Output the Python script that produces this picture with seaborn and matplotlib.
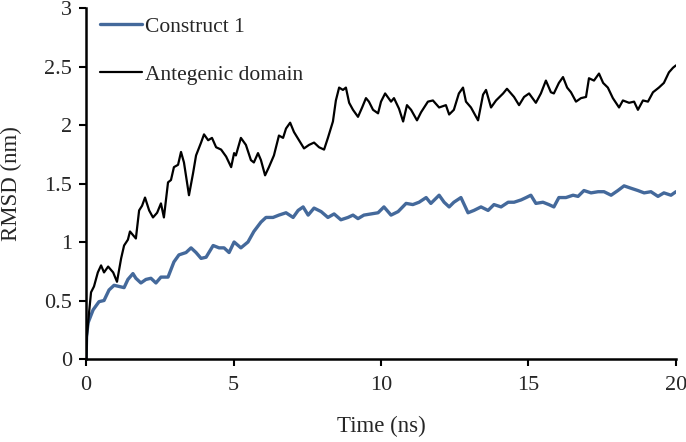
import seaborn as sns
import matplotlib.pyplot as plt
import pandas as pd

# Antegenic domain (black)
t_ant = [0, 0.03, 0.1, 0.17, 0.27, 0.4, 0.51, 0.61, 0.75, 0.92, 1.05, 1.19, 1.29, 1.42, 1.49,
         1.59, 1.69, 1.8, 1.9, 2.0, 2.14, 2.27, 2.41, 2.54, 2.64, 2.78, 2.88, 2.98, 3.12,
         3.22, 3.32, 3.49, 3.63, 3.73, 3.9, 4.0, 4.14, 4.27, 4.41, 4.58, 4.75, 4.92, 5.02,
         5.08, 5.25, 5.42, 5.59, 5.69, 5.83, 5.93, 6.07, 6.2, 6.37, 6.54, 6.68, 6.78, 6.92,
         7.05, 7.22, 7.39, 7.56, 7.73, 7.9, 8.07, 8.2, 8.37, 8.47, 8.58, 8.71, 8.81, 8.92,
         9.05, 9.22, 9.36, 9.49, 9.59, 9.73, 9.9, 10.0, 10.14, 10.34, 10.44, 10.61, 10.75,
         10.88, 11.02, 11.22, 11.36, 11.59, 11.76, 11.97, 12.2, 12.31, 12.47, 12.64, 12.78,
         12.88, 13.05, 13.29, 13.46, 13.56, 13.73, 13.9, 14.14, 14.27, 14.41, 14.51, 14.68,
         14.85, 15.02, 15.25, 15.42, 15.59, 15.76, 15.86, 16.03, 16.17, 16.31, 16.44, 16.61,
         16.78, 16.95, 17.05, 17.22, 17.39, 17.53, 17.69, 17.86, 18.07, 18.2, 18.41, 18.58,
         18.71, 18.88, 19.05, 19.22, 19.42, 19.59, 19.76, 19.9, 20.0]
rmsd_ant = [0, 0.19, 0.39, 0.57, 0.62, 0.74, 0.80, 0.74, 0.79, 0.74, 0.66, 0.86, 0.97, 1.02,
            1.09, 1.06, 1.03, 1.27, 1.31, 1.38, 1.27, 1.21, 1.25, 1.33, 1.21, 1.51, 1.53,
            1.64, 1.66, 1.77, 1.68, 1.40, 1.59, 1.74, 1.85, 1.92, 1.87, 1.89, 1.81, 1.79,
            1.73, 1.64, 1.76, 1.74, 1.89, 1.83, 1.70, 1.68, 1.76, 1.70, 1.57, 1.64, 1.74,
            1.91, 1.89, 1.97, 2.02, 1.94, 1.87, 1.80, 1.83, 1.85, 1.81, 1.79, 1.89, 2.03,
            2.21, 2.32, 2.30, 2.32, 2.19, 2.13, 2.07, 2.15, 2.23, 2.20, 2.13, 2.10, 2.20,
            2.27, 2.20, 2.23, 2.14, 2.03, 2.17, 2.13, 2.04, 2.11, 2.20, 2.21, 2.15, 2.17,
            2.09, 2.13, 2.27, 2.32, 2.20, 2.15, 2.04, 2.26, 2.30, 2.15, 2.21, 2.27, 2.31,
            2.27, 2.24, 2.17, 2.24, 2.27, 2.19, 2.27, 2.38, 2.28, 2.27, 2.36, 2.41, 2.32,
            2.28, 2.20, 2.23, 2.24, 2.40, 2.38, 2.44, 2.36, 2.32, 2.23, 2.15, 2.21, 2.19,
            2.20, 2.13, 2.21, 2.20, 2.28, 2.32, 2.36, 2.45, 2.49, 2.51]

# Construct 1 (blue)
t_con = [0, 0.02, 0.07, 0.24, 0.44, 0.61, 0.78, 0.95, 1.12, 1.29, 1.42, 1.59, 1.69, 1.86,
         2.03, 2.2, 2.37, 2.54, 2.78, 2.98, 3.15, 3.39, 3.56, 3.73, 3.9, 4.07, 4.31, 4.51,
         4.68, 4.85, 5.02, 5.25, 5.49, 5.69, 5.93, 6.1, 6.34, 6.54, 6.78, 7.02, 7.19, 7.36,
         7.53, 7.73, 7.97, 8.2, 8.41, 8.64, 8.88, 9.05, 9.22, 9.42, 9.66, 9.9, 10.1, 10.34,
         10.58, 10.85, 11.08, 11.29, 11.53, 11.69, 11.97, 12.14, 12.31, 12.47, 12.71, 12.95,
         13.15, 13.39, 13.63, 13.83, 14.07, 14.31, 14.51, 14.75, 14.92, 15.08, 15.25, 15.49,
         15.69, 15.86, 16.03, 16.27, 16.51, 16.68, 16.88, 17.12, 17.36, 17.56, 17.8, 18.03,
         18.24, 18.47, 18.71, 18.92, 19.15, 19.39, 19.59, 19.83, 20.0]
rmsd_con = [0, 0.2, 0.31, 0.42, 0.49, 0.50, 0.59, 0.63, 0.62, 0.61, 0.68, 0.73, 0.69, 0.65,
            0.68, 0.69, 0.65, 0.70, 0.70, 0.83, 0.89, 0.91, 0.95, 0.91, 0.86, 0.87, 0.97,
            0.95, 0.95, 0.91, 1.0, 0.95, 1.0, 1.09, 1.17, 1.21, 1.21, 1.23, 1.25, 1.21,
            1.27, 1.30, 1.23, 1.29, 1.26, 1.21, 1.24, 1.19, 1.21, 1.23, 1.20, 1.23, 1.24,
            1.25, 1.30, 1.23, 1.26, 1.33, 1.32, 1.34, 1.38, 1.33, 1.40, 1.34, 1.30, 1.34,
            1.38, 1.25, 1.27, 1.30, 1.27, 1.32, 1.30, 1.34, 1.34, 1.36, 1.38, 1.40, 1.33,
            1.34, 1.32, 1.30, 1.38, 1.38, 1.40, 1.39, 1.44, 1.42, 1.43, 1.43, 1.40, 1.44,
            1.48, 1.46, 1.44, 1.42, 1.43, 1.39, 1.42, 1.40, 1.43]

df_con = pd.DataFrame({'Time': t_con, 'RMSD': rmsd_con})
df_ant = pd.DataFrame({'Time': t_ant, 'RMSD': rmsd_ant})

sns.set_style('ticks')
plt.rcParams['font.family'] = ['Liberation Serif', 'DejaVu Serif']

fig = plt.figure(figsize=(6.86, 4.42), dpi=100)
ax = fig.add_axes([0.1254, 0.1878, 0.86, 0.794])

sns.lineplot(x='Time', y='RMSD', data=df_con, ax=ax, color='#44699b', linewidth=2.4,
             label='Construct 1', estimator=None, sort=False)
sns.lineplot(x='Time', y='RMSD', data=df_ant, ax=ax, color='black', linewidth=1.6,
             label='Antegenic domain', estimator=None, sort=False)

ax.set_xlim(0, 20)
ax.set_ylim(0, 3)
ax.set_xticks([0, 5, 10, 15, 20])
ax.set_yticks([0, 0.5, 1, 1.5, 2, 2.5, 3])
ax.set_yticklabels(['0', '0.5', '1', '1.5', '2', '2.5', '3'])
ax.tick_params(labelsize=16, direction='out', length=5, width=1.5, color='black', pad=5)
ax.tick_params(axis='x', pad=7)
for s in ['top', 'right']:
    ax.spines[s].set_visible(False)
for s in ['left', 'bottom']:
    ax.spines[s].set_linewidth(1.8)
    ax.spines[s].set_color('black')

ax.set_xlabel('Time (ns)', fontsize=16.5, labelpad=15)
ax.set_ylabel('RMSD (nm)', fontsize=16.5, labelpad=16)

ax.legend(loc='upper left', bbox_to_anchor=(0.009, 1.0), borderaxespad=0, frameon=False,
          fontsize=15.5, handlelength=1.95, handletextpad=0.15, labelspacing=1.3)

fig.savefig('out.png', dpi=100)
